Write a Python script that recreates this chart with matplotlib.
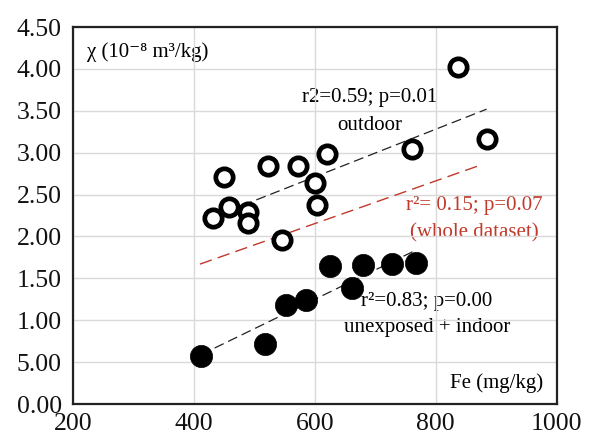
import matplotlib
matplotlib.use("Agg")
import matplotlib.pyplot as plt
from matplotlib.ticker import FixedLocator, FixedFormatter

plt.rcParams['font.family'] = ['Liberation Serif', 'DejaVu Serif']

# Outdoor (open circles)
outdoor_fe = [431, 450, 458, 489, 489, 522, 545, 572, 600, 603, 620, 761, 836, 884]
outdoor_chi = [2.22, 2.71, 2.35, 2.29, 2.16, 2.84, 1.96, 2.84, 2.64, 2.37, 2.99, 3.04, 4.02, 3.16]

# Unexposed + indoor (filled circles)
indoor_fe = [412, 518, 552, 586, 625, 661, 680, 727, 768]
indoor_chi = [0.57, 0.72, 1.18, 1.24, 1.65, 1.38, 1.66, 1.67, 1.68]

# Trend lines (endpoints)
trend_outdoor_x = [434, 884]
trend_outdoor_y = [2.24, 3.52]
trend_whole_x = [410, 877]
trend_whole_y = [1.67, 2.86]
trend_indoor_x = [412, 768]
trend_indoor_y = [0.59, 1.84]

x_ticks = [200, 400, 600, 800, 1000]
y_ticks = [0.0, 0.5, 1.0, 1.5, 2.0, 2.5, 3.0, 3.5, 4.0, 4.5]
y_tick_labels = ['0.00', '5.00', '1.00', '1.50', '2.00', '2.50', '3.00', '3.50', '4.00', '4.50']

red = '#C0392B'

fig = plt.figure(figsize=(5.98, 4.37), dpi=100)
ax = fig.add_axes([0.122, 0.0755, 0.809, 0.8625])
ax.set_xlim(200, 1000)
ax.set_ylim(0, 4.5)
ax.set_axisbelow(True)
ax.grid(True, color='#d9d9d9', linewidth=1.0, zorder=0.6)

ax.xaxis.set_major_locator(FixedLocator(x_ticks))
ax.yaxis.set_major_locator(FixedLocator(y_ticks))
ax.yaxis.set_major_formatter(FixedFormatter(y_tick_labels))
ax.tick_params(axis='both', length=0, labelsize=18.5, colors='#111111')
ax.tick_params(axis='x', pad=6.5)
ax.tick_params(axis='y', pad=8)
for s in ax.spines.values():
    s.set_linewidth(1.6)
    s.set_color('#222222')

ax.plot(trend_whole_x, trend_whole_y, color=red, linewidth=1.0, linestyle=(0, (9, 4.5)), zorder=2)
ax.plot(trend_outdoor_x, trend_outdoor_y, color='#222222', linewidth=0.9, linestyle=(0, (8, 4)), zorder=2)
ax.plot(trend_indoor_x, trend_indoor_y, color='#222222', linewidth=0.9, linestyle=(0, (8, 4)), zorder=2)

ax.plot(outdoor_fe, outdoor_chi, linestyle='none', marker='o', markersize=12.5,
        markerfacecolor='white', markeredgecolor='black', markeredgewidth=3.4, zorder=3)
ax.plot(indoor_fe, indoor_chi, linestyle='none', marker='o', markersize=16,
        markerfacecolor='black', markeredgecolor='black', markeredgewidth=0.5, zorder=3)

tz = 0.5
fs = 15
ax.text(223, 4.2, 'χ (10⁻⁸ m³/kg)', fontsize=fs, ha='left', va='center', zorder=tz)
ax.text(691, 3.66, 'r2=0.59; p=0.01', fontsize=fs, ha='center', va='center', zorder=tz)
ax.text(691, 3.33, 'outdoor', fontsize=fs, ha='center', va='center', zorder=tz)
ax.text(864, 2.37, 'r²= 0.15; p=0.07', fontsize=fs, ha='center', va='center', color=red, zorder=tz)
ax.text(864, 2.04, '(whole dataset)', fontsize=fs, ha='center', va='center', color=red, zorder=tz)
ax.text(785, 1.22, 'r²=0.83; p=0.00', fontsize=fs, ha='center', va='center', zorder=tz)
ax.text(785, 0.91, 'unexposed + indoor', fontsize=fs, ha='center', va='center', zorder=tz)
ax.text(977, 0.25, 'Fe (mg/kg)', fontsize=fs, ha='right', va='center', zorder=tz)

fig.savefig('out.png', dpi=100)
